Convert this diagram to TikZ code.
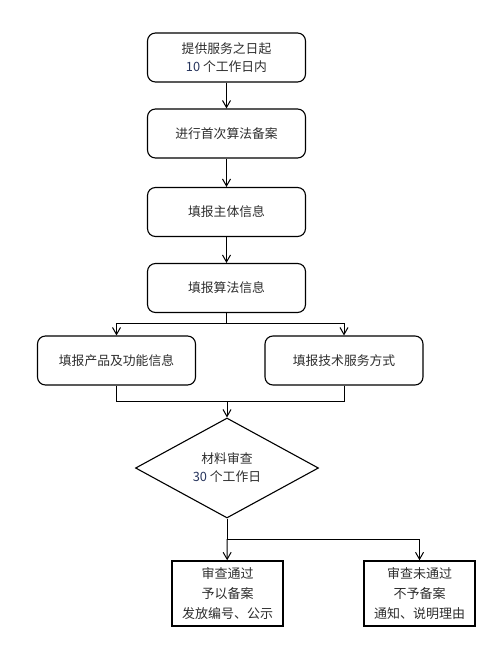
\documentclass[tikz,border=0pt]{standalone}
\usepackage{fontspec}
\newfontfamily\cjk{Noto Sans CJK SC}
\usetikzlibrary{shapes.geometric,arrows.meta}
\definecolor{numblue}{RGB}{38,52,92}
\definecolor{txt}{RGB}{45,45,45}
\newcommand{\num}[1]{\textcolor{numblue}{#1}}
\tikzset{
  stepbox/.style={draw, rounded corners=8pt, line width=1.1pt, minimum width=158pt, minimum height=49pt, align=center, text=txt, font=\cjk\fontsize{12.8}{18}\selectfont},
  checkbox/.style={draw, diamond, line width=1.1pt, minimum width=183pt, minimum height=100pt, inner sep=0pt, align=center, text=txt, font=\cjk\fontsize{12.8}{18}\selectfont},
  resultbox/.style={draw, line width=1.5pt, minimum width=111pt, minimum height=65pt, align=center, text=txt, font=\cjk\fontsize{13}{20}\selectfont},
  arr/.style={line width=1pt, -{Straight Barb[length=7pt,width=8pt,line width=1pt]}},
  link/.style={line width=1pt}
}
\begin{document}
\begin{tikzpicture}[x=1pt, y=-1pt]
\useasboundingbox (0,0) rectangle (501,645);
\foreach \i/\y/\t in {1/57.5/{提供服务之日起\\\num{10} 个工作日内}, 2/133.5/进行首次算法备案, 3/212/填报主体信息, 4/288/填报算法信息} {
    \node[stepbox] (s\i) at (226.5,\y) {\t};
}
\foreach \i [count=\j from 2] in {1,2,3} {
    \draw[arr] (s\i) -- (s\j);
}
\node[stepbox] (f1) at (116.5,360.5) {填报产品及功能信息};
\node[stepbox] (f2) at (344,360.5) {填报技术服务方式};
\node[checkbox] (d) at (227,468) {材料审查\\\num{30} 个工作日};
\node[resultbox] (r1) at (227.5,593.5) {审查通过\\予以备案\\发放编号、公示};
\node[resultbox] (r2) at (419.5,593.5) {审查未通过\\不予备案\\通知、说明理由};
% split and merge points
\coordinate (j1) at (226.5,323);
\coordinate (j2) at (227,401);
\coordinate (j3) at (227,539);
\draw[link] (s4) -- (j1);
\draw[arr] (j1) -| (f1);
\draw[arr] (j1) -| (f2);
\draw[link] (f1) |- (j2);
\draw[link] (f2) |- (j2);
\draw[arr] (j2) -- (d);
\draw[link] (d) -- (j3);
\draw[arr] (j3) -- (r1);
\draw[arr] (j3) -| (r2);
\end{tikzpicture}
\end{document}
